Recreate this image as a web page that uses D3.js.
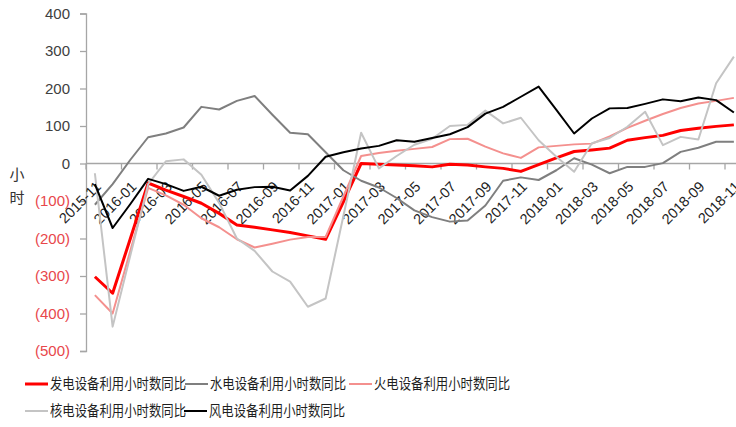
<!DOCTYPE html>
<html lang="zh">
<head>
<meta charset="utf-8">
<title>设备利用小时数同比</title>
<script src="https://cdn.jsdelivr.net/npm/d3@7"></script>
<style>
  body { margin: 0; background: #fff; }
  svg { display: block; }
  .num { font-family: "Liberation Sans", Arial, sans-serif; }
  .cjk { font-family: "Noto Sans CJK SC", sans-serif; }
</style>
</head>
<body>
<svg width="736" height="427"></svg>
<script>
// months on the x axis (2015-11 .. 2018-11)
var months = ["2015-11","2015-12","2016-01","2016-02","2016-03","2016-04","2016-05","2016-06",
  "2016-07","2016-08","2016-09","2016-10","2016-11","2016-12","2017-01","2017-02","2017-03",
  "2017-04","2017-05","2017-06","2017-07","2017-08","2017-09","2017-10","2017-11","2017-12",
  "2018-01","2018-02","2018-03","2018-04","2018-05","2018-06","2018-07","2018-08","2018-09",
  "2018-10","2018-11"];

// labelled months (every 2nd)
var xTickLabels = ["2015-11","2016-01","2016-03","2016-05","2016-07","2016-09","2016-11",
  "2017-01","2017-03","2017-05","2017-07","2017-09","2017-11","2018-01","2018-03","2018-05",
  "2018-07","2018-09","2018-11"];

var yTicks = [400, 300, 200, 100, 0, -100, -200, -300, -400, -500];

// series values, hours yoy
var genAll = [-302,-346,-200,-52,-71,-88,-106,-133,-164,-170,-177,-184,-193,-202,-102,0,-2,-4,-6,-9,
  -2,-4,-9,-13,-21,-3,15,32,36,41,62,69,75,88,94,99,103];
var hydro = [-110,-55,10,70,80,96,151,144,167,180,130,82,78,30,-18,-46,-64,-92,-125,-143,
  -155,-152,-112,-46,-37,-44,-18,14,-3,-26,-9,-9,1,31,42,58,58];
var thermal = [-351,-400,-232,-65,-85,-110,-146,-170,-202,-224,-214,-203,-196,-196,-88,20,28,34,39,44,
  65,66,45,27,15,43,47,51,53,72,95,114,132,148,160,167,175];
var nuclear = [-26,-435,-245,-55,6,11,-30,-105,-200,-233,-288,-315,-382,-360,-140,82,-13,20,50,66,
  100,103,141,107,122,62,18,-22,54,68,98,138,49,71,64,214,285];
var wind = [-55,-172,-108,-41,-55,-73,-62,-86,-70,-63,-62,-72,-33,18,30,40,47,62,58,68,
  78,97,133,151,178,205,143,80,120,147,148,159,171,166,176,169,136];

var seriesNames = ["发电设备利用小时数同比","水电设备利用小时数同比","火电设备利用小时数同比",
  "核电设备利用小时数同比","风电设备利用小时数同比"];

var series = [
  {name: seriesNames[0], values: genAll, color: "#ff0000", width: 3},
  {name: seriesNames[1], values: hydro, color: "#7f7f7f", width: 2},
  {name: seriesNames[2], values: thermal, color: "#f4908e", width: 2},
  {name: seriesNames[3], values: nuclear, color: "#c4c4c4", width: 2},
  {name: seriesNames[4], values: wind, color: "#000000", width: 2}
];

var svg = d3.select("svg");

// scales
var x = d3.scaleBand()
    .domain(months)
    .range([86, 86 + 17.75 * months.length]);
var y = d3.scaleLinear()
    .domain([-500, 400])
    .range([351, 13.5]);

var axisColor = "#a6a6a6";

// y axis
var yAxis = d3.axisLeft(y)
    .tickValues(yTicks)
    .tickSize(6)
    .tickPadding(10)
    .tickFormat(function(d) { return d < 0 ? "(" + (-d) + ")" : d; });

var gy = svg.append("g")
    .attr("transform", "translate(86,0)")
    .call(yAxis);
gy.select(".domain").attr("stroke", axisColor).attr("stroke-width", 1.3);
gy.selectAll(".tick line").attr("stroke", axisColor).attr("stroke-width", 1.3);
gy.selectAll(".tick text")
    .attr("class", "num")
    .style("font-size", "15px")
    .attr("fill", function(d) { return d < 0 ? "#e8474b" : "#404040"; });

// x axis along zero
var y0 = y(0);
svg.append("line")
    .attr("x1", 86).attr("x2", 736)
    .attr("y1", y0).attr("y2", y0)
    .attr("stroke", axisColor).attr("stroke-width", 1.3);

svg.selectAll(".xtick")
  .data(xTickLabels)
  .enter()
    .append("line")
    .attr("class", "xtick")
    .attr("x1", function(d) { return x(d); })
    .attr("x2", function(d) { return x(d); })
    .attr("y1", y0).attr("y2", y0 + 6)
    .attr("stroke", axisColor).attr("stroke-width", 1.3);

svg.selectAll(".xlabel")
  .data(xTickLabels)
  .enter()
    .append("text")
    .attr("class", "xlabel num")
    .attr("transform", function(d) {
      return "translate(" + (x(d) + x.bandwidth() / 2 + 7) + "," + (y0 + 24) + ") rotate(-45)";
    })
    .attr("text-anchor", "end")
    .style("font-size", "14.5px")
    .attr("fill", "#1f1f1f")
    .text(function(d) { return d; });

// unit label, stacked
svg.append("text")
    .attr("class", "cjk")
    .attr("x", 17).attr("y", 180)
    .attr("text-anchor", "middle")
    .style("font-size", "15px")
    .attr("fill", "#333")
    .text("小");
svg.append("text")
    .attr("class", "cjk")
    .attr("x", 17).attr("y", 203)
    .attr("text-anchor", "middle")
    .style("font-size", "15px")
    .attr("fill", "#333")
    .text("时");

// lines
var line = d3.line()
    .x(function(d, i) { return x(months[i]) + x.bandwidth() / 2; })
    .y(function(d) { return y(d); });

svg.selectAll(".series")
  .data(series)
  .enter()
    .append("path")
    .attr("class", "series")
    .attr("fill", "none")
    .attr("stroke", function(d) { return d.color; })
    .attr("stroke-width", function(d) { return d.width; })
    .attr("stroke-linejoin", "round")
    .attr("d", function(d) { return line(d.values); });

// legend
var legendPos = [[25, 384], [185, 384], [349, 384], [25, 411], [184, 411]];
var legend = svg.selectAll(".legend")
  .data(series)
  .enter()
    .append("g")
    .attr("class", "legend")
    .attr("transform", function(d, i) {
      return "translate(" + legendPos[i][0] + "," + legendPos[i][1] + ")";
    });

legend.append("line")
    .attr("x1", 0).attr("x2", 23)
    .attr("y1", 0).attr("y2", 0)
    .attr("stroke", function(d) { return d.color; })
    .attr("stroke-width", function(d) { return d.width; });

legend.append("text")
    .attr("class", "cjk")
    .attr("x", 25)
    .attr("y", 5)
    .attr("textLength", 136)
    .attr("lengthAdjust", "spacingAndGlyphs")
    .style("font-size", "14.5px")
    .attr("fill", "#1f1f1f")
    .text(function(d) { return d.name; });
</script>
</body>
</html>
